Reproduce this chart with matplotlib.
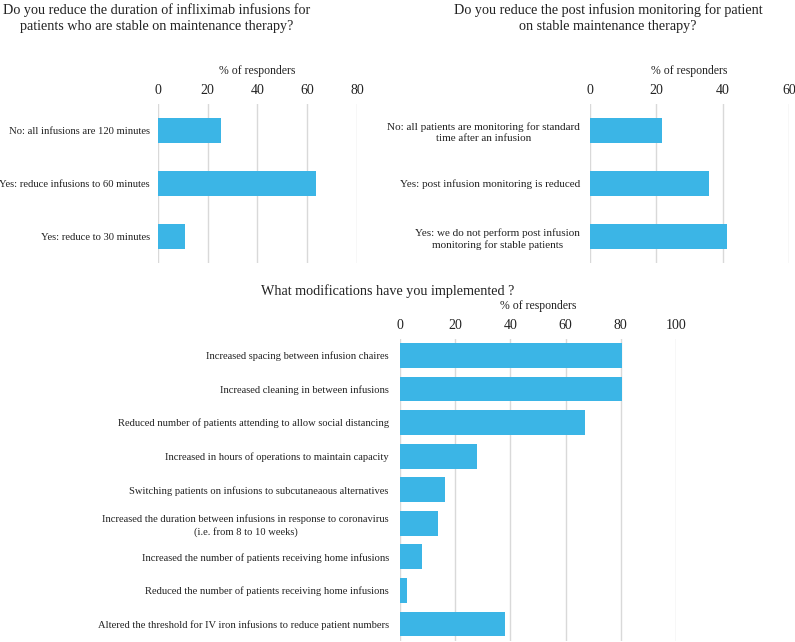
import matplotlib
matplotlib.use('Agg')
from matplotlib import pyplot as plt

plt.rcParams['font.family'] = ['Liberation Serif', 'DejaVu Serif']

BAR = '#3bb5e6'
GRID = '#d9d9d9'
TXT = '#222222'

# chart 1: infusion duration
dur_labels = ['No: all infusions are 120 minutes',
              'Yes: reduce infusions to 60 minutes',
              'Yes: reduce to 30 minutes']
dur_values = [25.3, 63.5, 10.8]
dur_ticks = [0, 20, 40, 60, 80]

# chart 2: post infusion monitoring
mon_labels = ['No: all patients are monitoring for standard\ntime after an infusion',
              'Yes: post infusion monitoring is reduced',
              'Yes: we do not perform post infusion\nmonitoring for stable patients']
mon_values = [21.8, 35.8, 41.3]
mon_ticks = [0, 20, 40, 60]

# chart 3: modifications
mod_labels = ['Increased spacing between infusion chaires',
              'Increased cleaning in between infusions',
              'Reduced number of patients attending to allow social distancing',
              'Increased in hours of operations to maintain capacity',
              'Switching patients on infusions to subcutaneaous alternatives',
              'Increased the duration between infusions in response to coronavirus\n(i.e. from 8 to 10 weeks)',
              'Increased the number of patients receiving home infusions',
              'Reduced the number of patients receiving home infusions',
              'Altered the threshold for IV iron infusions to reduce patient numbers']
mod_values = [80.4, 80.4, 67.0, 27.9, 16.3, 13.8, 8.1, 2.4, 38.0]
mod_ticks = [0, 20, 40, 60, 80, 100]


def draw(ax, labels, values, ticks, bar_h, ypad, lsize):
    pos = list(range(len(labels)))
    ax.barh(pos, values, height=bar_h, color=BAR, zorder=3)
    ax.set_ylim(len(labels) - 0.5, -0.5)
    ax.set_xlim(0, ticks[-1])
    ax.set_xticks(ticks)
    ax.set_yticks(pos)
    ax.set_yticklabels(labels, fontsize=lsize, color=TXT,
                       multialignment='center', linespacing=1.3)
    ax.xaxis.tick_top()
    ax.xaxis.set_label_position('top')
    ax.set_xlabel('% of responders', fontsize=8.5, color=TXT, labelpad=7)
    ax.tick_params(axis='x', length=0, pad=5, labelsize=10, labelcolor=TXT)
    ax.tick_params(axis='y', length=0, pad=ypad)
    ax.grid(axis='x', color=GRID, linewidth=1, zorder=0)
    for s in ax.spines.values():
        s.set_visible(False)


fig = plt.figure(figsize=(7.95, 6.42), dpi=100)

ax1 = fig.add_axes([0.1987, 0.590, 0.2503, 0.248])
draw(ax1, dur_labels, dur_values, dur_ticks, 0.47, 6, 7.7)

ax2 = fig.add_axes([0.7421, 0.590, 0.2503, 0.248])
draw(ax2, mon_labels, mon_values, mon_ticks, 0.47, 7, 8)

ax3 = fig.add_axes([0.5031, 0.002, 0.3472, 0.4705])
draw(ax3, mod_labels, mod_values, mod_ticks, 0.74, 8, 7.6)

fig.text(157 / 795, 1 - 18 / 642,
         'Do you reduce the duration of infliximab infusions for\n'
         'patients who are stable on maintenance therapy?',
         ha='center', va='center', fontsize=10.2, color=TXT, linespacing=1.35)
fig.text(608 / 795, 1 - 18 / 642,
         'Do you reduce the post infusion monitoring for patient\n'
         'on stable maintenance therapy?',
         ha='center', va='center', fontsize=10.2, color=TXT, linespacing=1.35)
fig.text(388 / 795, 1 - 291 / 642,
         'What modifications have you implemented ?',
         ha='center', va='center', fontsize=10.2, color=TXT)

fig.savefig('out.png', dpi=100, facecolor='white')
